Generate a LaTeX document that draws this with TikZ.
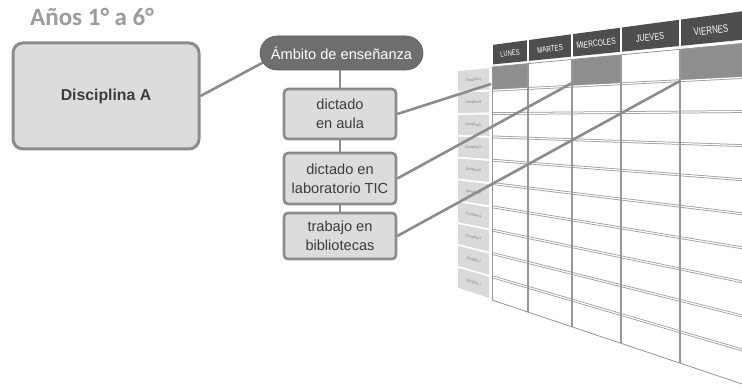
\documentclass[tikz,border=0pt]{standalone}
\usepackage{fontspec}
\setmainfont{Liberation Sans}
\newfontfamily\titlefont{Carlito}
\definecolor{linegray}{HTML}{8C8C8C}
\definecolor{boxfill}{HTML}{DCDCDC}
\definecolor{pillfill}{HTML}{6E6E6E}
\definecolor{headfill}{HTML}{4E4E4E}
\definecolor{darkcell}{HTML}{8E8E8E}
\definecolor{gridgray}{HTML}{979797}
\definecolor{labelfill}{HTML}{DADADA}
\definecolor{titlegray}{HTML}{9C9C9C}
\definecolor{textdark}{HTML}{3C3C3C}
\begin{document}
\begin{tikzpicture}[x=1pt,y=-1pt,
  declare function={py(\a,\b)=118+(\b-118)*((\a+50)/542);},
  conn/.style={draw=linegray, line width=2.6pt},
  bigbox/.style={draw=linegray, line width=3pt, fill=boxfill, rounded corners=10pt,
    minimum width=186pt, minimum height=106pt, inner sep=0pt,
    text=textdark, font=\bfseries\fontsize{15.8}{19}\selectfont},
  pill/.style={fill=pillfill, draw=pillfill!85!black, line width=0.6pt, rounded corners=17pt,
    minimum width=163pt, minimum height=34pt, inner sep=0pt,
    text=white, font=\fontsize{14.6}{17}\selectfont},
  stepbox/.style={draw=linegray, line width=2.6pt, fill=boxfill, rounded corners=4pt,
    minimum width=112pt, inner sep=0pt, align=center,
    text=textdark, font=\fontsize{14.6}{19}\selectfont},
  hline/.style={draw=gridgray, line width=0.75pt, double=white, double distance=1.2pt},
  vline/.style={draw=gridgray, line width=2.6pt},
  headtext/.style={text=white, inner sep=0pt},
  labtext/.style={text=gray, inner sep=0pt, font=\fontsize{3.8}{4}\selectfont}
]
\useasboundingbox (0,0) rectangle (742,390);
\fill[white] (0,0) rectangle (742,390);

% ---------- title ----------
\node[anchor=base west, inner sep=0pt, text=titlegray,
  font=\titlefont\bfseries\fontsize{25}{30}\selectfont] (title) at (30,26) {Años 1° a 6°};

% ---------- perspective table ----------
\begin{scope}
\clip (0,0) rectangle (742,390);
% header cells
\foreach \xa/\xb in {492/528, 528/572, 572/621, 621/680, 680/820}{
  \pgfmathsetmacro\xl{\xa+1.2}
  \pgfmathsetmacro\xr{\xb-1.2}
  \fill[headfill] (\xl,{py(\xl,45)}) -- (\xr,{py(\xr,45)}) -- (\xr,{py(\xr,64.5)}) -- (\xl,{py(\xl,64.5)}) -- cycle;
}
% header labels
\foreach \xc/\lab in {510/LUNES, 550/MARTES, 596/MIERCOLES, 650/JUEVES, 711/VIERNES}{
  \pgfmathsetmacro\fs{7.6*(\xc+50)/542}
  \pgfmathsetmacro\ang{-atan(-63/542)}
  \node[headtext, rotate=\ang, xscale=0.74, font=\fontsize{\fs}{\fs}\selectfont]
    (h\lab) at (\xc,{py(\xc,55.5)}) {\lab};
}
% dark cells of row A
\foreach \xa/\xb in {492/528, 572/621, 680/820}{
  \fill[darkcell] (\xa,{py(\xa,67)}) -- (\xb,{py(\xb,67)}) -- (\xb,{py(\xb,90.3)}) -- (\xa,{py(\xa,90.3)}) -- cycle;
}
% horizontal lines
\foreach \k in {1,...,9}{
  \pgfmathsetmacro\r{67+23.3*\k}
  \draw[hline] (492,{py(492,\r)}) -- (820,{py(820,\r)});
}
\draw[draw=gridgray, line width=0.8pt] (492,{py(492,67)}) -- (820,{py(820,67)});
\draw[draw=gridgray, line width=0.8pt] (492,{py(492,300)}) -- (820,{py(820,300)});
% vertical lines
\draw[draw=gridgray, line width=0.9pt] (492,{py(492,67)}) -- (492,{py(492,300)});
\foreach \x in {528,572,621,680}{
  \draw[vline] (\x,{py(\x,67)}) -- (\x,{py(\x,300)});
}
% row labels
\foreach \k/\L in {0/A,1/B,2/C,3/D,4/E,5/F,6/G,7/H,8/I,9/J}{
  \pgfmathsetmacro\ra{67+23.3*\k+1}
  \pgfmathsetmacro\rb{67+23.3*(\k+1)-1}
  \pgfmathsetmacro\rc{67+23.3*(\k+0.5)}
  \fill[labelfill] (458,{py(458,\ra)}) -- (489,{py(489,\ra)}) -- (489,{py(489,\rb)}) -- (458,{py(458,\rb)}) -- cycle;
  \pgfmathsetmacro\ang{-atan((\rc-118)/542)}
  \node[labtext, rotate=\ang, xscale=0.8] (lab\L) at (473.5,{py(473.5,\rc)}) {Disciplina \L};
}
\end{scope}

% ---------- left diagram ----------
\coordinate (ambIn) at (264,62);
\coordinate (tA1) at (491,84);
\coordinate (tA2) at (572,83);
\coordinate (tA3) at (680,81);

\node[bigbox] (discA) at (106,96) {Disciplina A};
\draw[conn] (discA.east) -- (ambIn);
\node[pill] (amb) at (341.5,53) {Ámbito de enseñanza};

\node[stepbox, minimum height=50pt] (b1) at (340,114) {dictado\\en aula};
\node[stepbox, minimum height=51pt] (b2) at (340,178.5) {dictado en\\laboratorio TIC};
\node[stepbox, minimum height=46pt] (b3) at (340,236) {trabajo en\\bibliotecas};

\draw[conn] (b1.north |- amb.south) -- (b1.north);
\draw[conn] (b1.south) -- (b2.north);
\draw[conn] (b2.south) -- (b3.north);

\draw[conn] (b1.east) -- (tA1);
\draw[conn] (b2.east) -- (tA2);
\draw[conn] (b3.east) -- (tA3);
\end{tikzpicture}
\end{document}
